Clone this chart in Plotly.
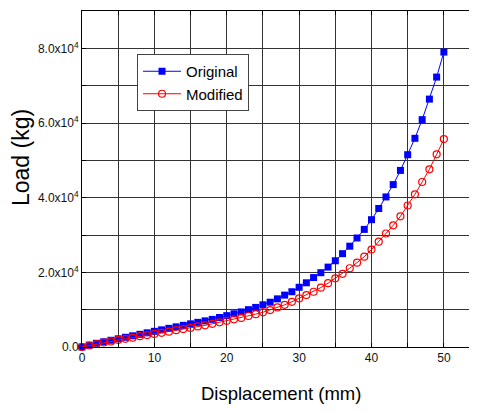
import plotly.graph_objects as go

displacement = list(range(0, 51))
original = [0, 500, 1000, 1400, 1800, 2200, 2600, 3000, 3400, 3800,
            4200, 4600, 5000, 5400, 5800, 6200, 6600, 7000, 7400, 7900,
            8400, 8900, 9400, 10000, 10600, 11300, 12000, 12900, 13900, 14800,
            16000, 17200, 18600, 19900, 21400, 23100, 25000, 27000, 29200, 31500,
            34100, 37100, 40200, 43500, 47300, 51500, 55900, 60900, 66400, 72300,
            79000]
modified = [0, 400, 800, 1200, 1500, 1900, 2200, 2500, 2900, 3200,
            3500, 3800, 4100, 4500, 4800, 5100, 5500, 5800, 6200, 6600,
            7000, 7400, 7800, 8300, 8800, 9300, 9900, 10600, 11300, 12100,
            13000, 13900, 14800, 15900, 17100, 18400, 19600, 21100, 22600, 24200,
            26100, 28200, 30400, 32600, 35000, 37900, 40900, 44200, 47600, 51600,
            55700]

x_tickvals = [0, 10, 20, 30, 40, 50]
x_ticktext = ["0", "10", "20", "30", "40", "50"]
y_tickvals = [0, 20000, 40000, 60000, 80000]
y_ticktext = ["0.0", "2.0x10<sup>4</sup>", "4.0x10<sup>4</sup>",
              "6.0x10<sup>4</sup>", "8.0x10<sup>4</sup>"]
x_title = "Displacement (mm)"
y_title = "Load (kg)"

FONT = "Liberation Sans, Arial"

fig = go.Figure()
fig.add_trace(go.Scatter(
    x=displacement, y=original, name="Original", mode="lines+markers",
    line=dict(color="#0000ff", width=1),
    marker=dict(symbol="square", size=7, color="#0000ff"),
    cliponaxis=False,
))
fig.add_trace(go.Scatter(
    x=displacement, y=modified, name="Modified", mode="lines+markers",
    line=dict(color="#ff0000", width=1),
    marker=dict(symbol="circle-open", size=7, color="#ff0000",
                line=dict(width=1.2, color="#ff0000")),
    cliponaxis=False,
))

axis_common = dict(
    showgrid=True, gridcolor="#333333", gridwidth=1,
    showline=True, linecolor="#000000", linewidth=1, mirror="ticks",
    ticks="inside", ticklen=4, tickcolor="#000000",
    zeroline=False, automargin=False,
    tickfont=dict(family=FONT, size=12, color="#111111"),
)

fig.update_xaxes(
    range=[0, 54.3], tickmode="array", tickvals=x_tickvals, ticktext=x_ticktext,
    minor=dict(tickvals=[5, 15, 25, 35, 45], showgrid=True, gridcolor="#333333",
               gridwidth=1, ticks="inside", ticklen=4, tickcolor="#000000"),
    **axis_common,
)
fig.update_yaxes(
    range=[0, 90000], tickmode="array", tickvals=y_tickvals, ticktext=y_ticktext,
    minor=dict(tickvals=[10000, 30000, 50000, 70000, 90000], showgrid=True,
               gridcolor="#333333", gridwidth=1, ticks="inside", ticklen=4,
               tickcolor="#000000"),
    **axis_common,
)

fig.add_annotation(
    text=x_title, xref="paper", yref="paper", x=0.506, y=-0.137,
    xanchor="center", yanchor="middle", showarrow=False,
    font=dict(family=FONT, size=18.5, color="#000000"),
)
fig.add_annotation(
    text=y_title, xref="paper", yref="paper", x=-0.155, y=0.5625,
    xanchor="center", yanchor="middle", showarrow=False, textangle=-90,
    font=dict(family=FONT, size=23, color="#000000"),
)

fig.update_layout(
    width=469, height=404,
    margin=dict(l=74, r=2, t=3, b=65),
    paper_bgcolor="white", plot_bgcolor="white",
    showlegend=True,
    legend=dict(
        x=0.14, y=0.872, xanchor="left", yanchor="top",
        bgcolor="white", bordercolor="#444444", borderwidth=1,
        font=dict(family=FONT, size=15, color="#000000"),
        itemwidth=38,
    ),
)

fig.write_html("out.html")
